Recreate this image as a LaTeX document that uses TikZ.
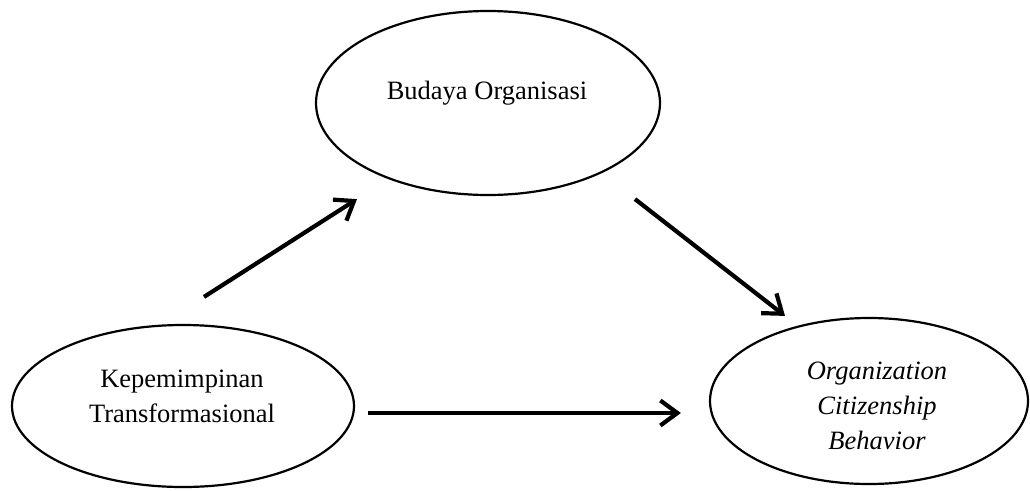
\documentclass[tikz,border=0pt]{standalone}
\usepackage{fontspec}
\setmainfont{Liberation Serif}
\usetikzlibrary{arrows.meta,shapes.geometric}
\begin{document}
\begin{tikzpicture}[x=1pt,y=-1pt,
  oval/.style={draw,line width=2.2pt,ellipse,inner sep=0pt},
  lbl/.style={font=\fontsize{26.5}{35}\selectfont,align=center,anchor=base,inner sep=0pt},
  arr/.style={line width=4.2pt,-{Straight Barb[length=17pt,width=25pt,line width=4.2pt]}}]
\useasboundingbox[fill=white] (0,0) rectangle (1030,490);
\node[oval,minimum width=344pt,minimum height=184pt] (b) at (488,103) {};
\node[oval,minimum width=342pt,minimum height=162pt] (k) at (183,406) {};
\node[oval,minimum width=318pt,minimum height=166pt] (o) at (869,401) {};
\node[lbl] (bt) at (487,99) {Budaya Organisasi};
\node[lbl] (kt) at (182,422) {Kepemimpinan\\Transformasional};
\node[lbl,font=\fontsize{26.5}{35}\selectfont\itshape] (ot) at (877,449) {Organization\\Citizenship\\Behavior};
\draw[arr] ([xshift=21pt,yshift=27pt]k.north) -- ([xshift=-131pt,yshift=-3pt]b.south);
\draw[arr] ([xshift=147pt,yshift=-3pt]b.south) -- ([xshift=-84pt,yshift=1pt]o.north);
\draw[arr] ([xshift=13pt,yshift=-7pt]k.east) -- ([xshift=-28pt,yshift=-12pt]o.west);
\end{tikzpicture}
\end{document}
